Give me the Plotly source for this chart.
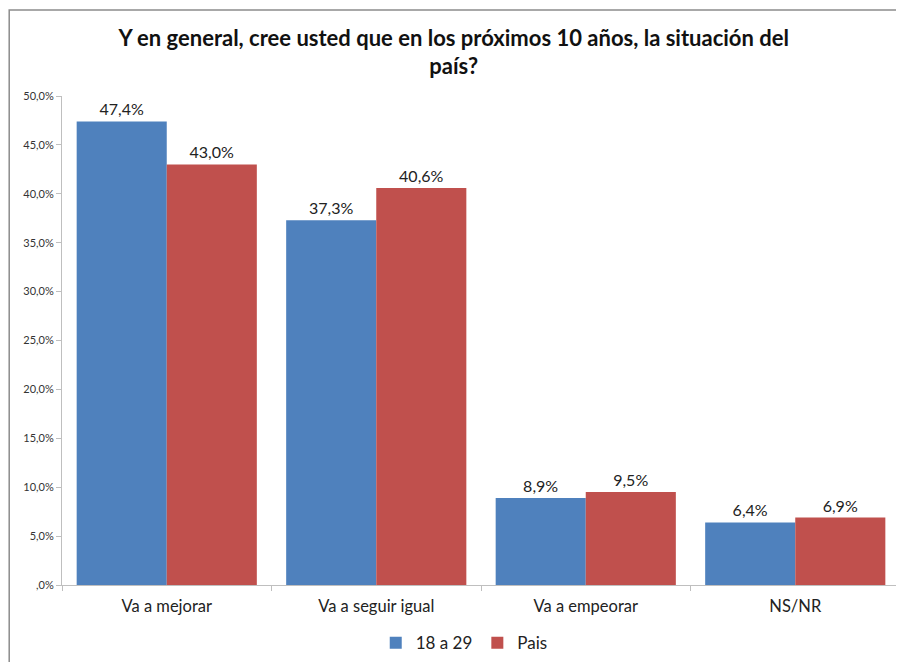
import plotly.graph_objects as go

categories = ["Va a mejorar", "Va a seguir igual", "Va a empeorar", "NS/NR"]
series_names = ["18 a 29", "Pais"]
values_18_29 = [47.4, 37.3, 8.9, 6.4]
values_pais = [43.0, 40.6, 9.5, 6.9]
ytick_vals = [0, 5, 10, 15, 20, 25, 30, 35, 40, 45, 50]
ytick_text = [",0%", "5,0%", "10,0%", "15,0%", "20,0%", "25,0%", "30,0%", "35,0%", "40,0%", "45,0%", "50,0%"]
colors = ["#4F81BD", "#C0504D"]

def fmt(v):
    return f"{v:.1f}".replace(".", ",") + "%"

FONT = "Lato, Open Sans, sans-serif"

fig = go.Figure()
for name, vals, col in zip(series_names, [values_18_29, values_pais], colors):
    fig.add_trace(go.Bar(
        x=categories, y=vals, name=name, marker_color=col,
        marker_line_width=0,
        text=[fmt(v) for v in vals], textposition="outside",
        textfont=dict(size=16, color="#222", family=FONT), cliponaxis=False,
    ))

fig.update_layout(
    width=904, height=662,
    barmode="group", bargap=0.14, bargroupgap=0,
    plot_bgcolor="white", paper_bgcolor="white",
    margin=dict(l=54, r=12, t=88, b=85, autoexpand=False),
    title=dict(
        text="<b>Y en general, cree usted que en los próximos 10 años, la situación del<br>país?</b>",
        x=0.493, xanchor="center", y=0.943, yanchor="middle",
        font=dict(size=22, color="#111", family=FONT),
    ),
    font=dict(family=FONT, color="#222"),
    showlegend=True,
    legend=dict(orientation="h", x=0.48, xanchor="center", y=-0.119, yanchor="middle",
                font=dict(size=17, family=FONT, color="#222"), traceorder="normal",
                itemwidth=30),
    xaxis=dict(showline=True, linecolor="#BFBFBF", linewidth=1, ticks="outside",
               tickson="boundaries", ticklen=5, tickcolor="#BFBFBF", automargin=False,
               ticklabelstandoff=6,
               tickfont=dict(size=16.5, family=FONT, color="#222"), showgrid=False),
    yaxis=dict(range=[0, 50], tickvals=ytick_vals, ticktext=ytick_text,
               showline=True, linecolor="#BFBFBF", linewidth=1, ticks="outside",
               ticklen=5, tickcolor="#BFBFBF", showgrid=False, zeroline=False, automargin=False,
               tickfont=dict(size=11, family=FONT, color="#333")),
)

fig.add_shape(type="rect", xref="paper", yref="paper",
              x0=-0.063, x1=1.03, y0=-0.2, y1=1.176,
              line=dict(color="#8C8C8C", width=1.5), fillcolor="rgba(0,0,0,0)")

fig.write_html("out.html")
